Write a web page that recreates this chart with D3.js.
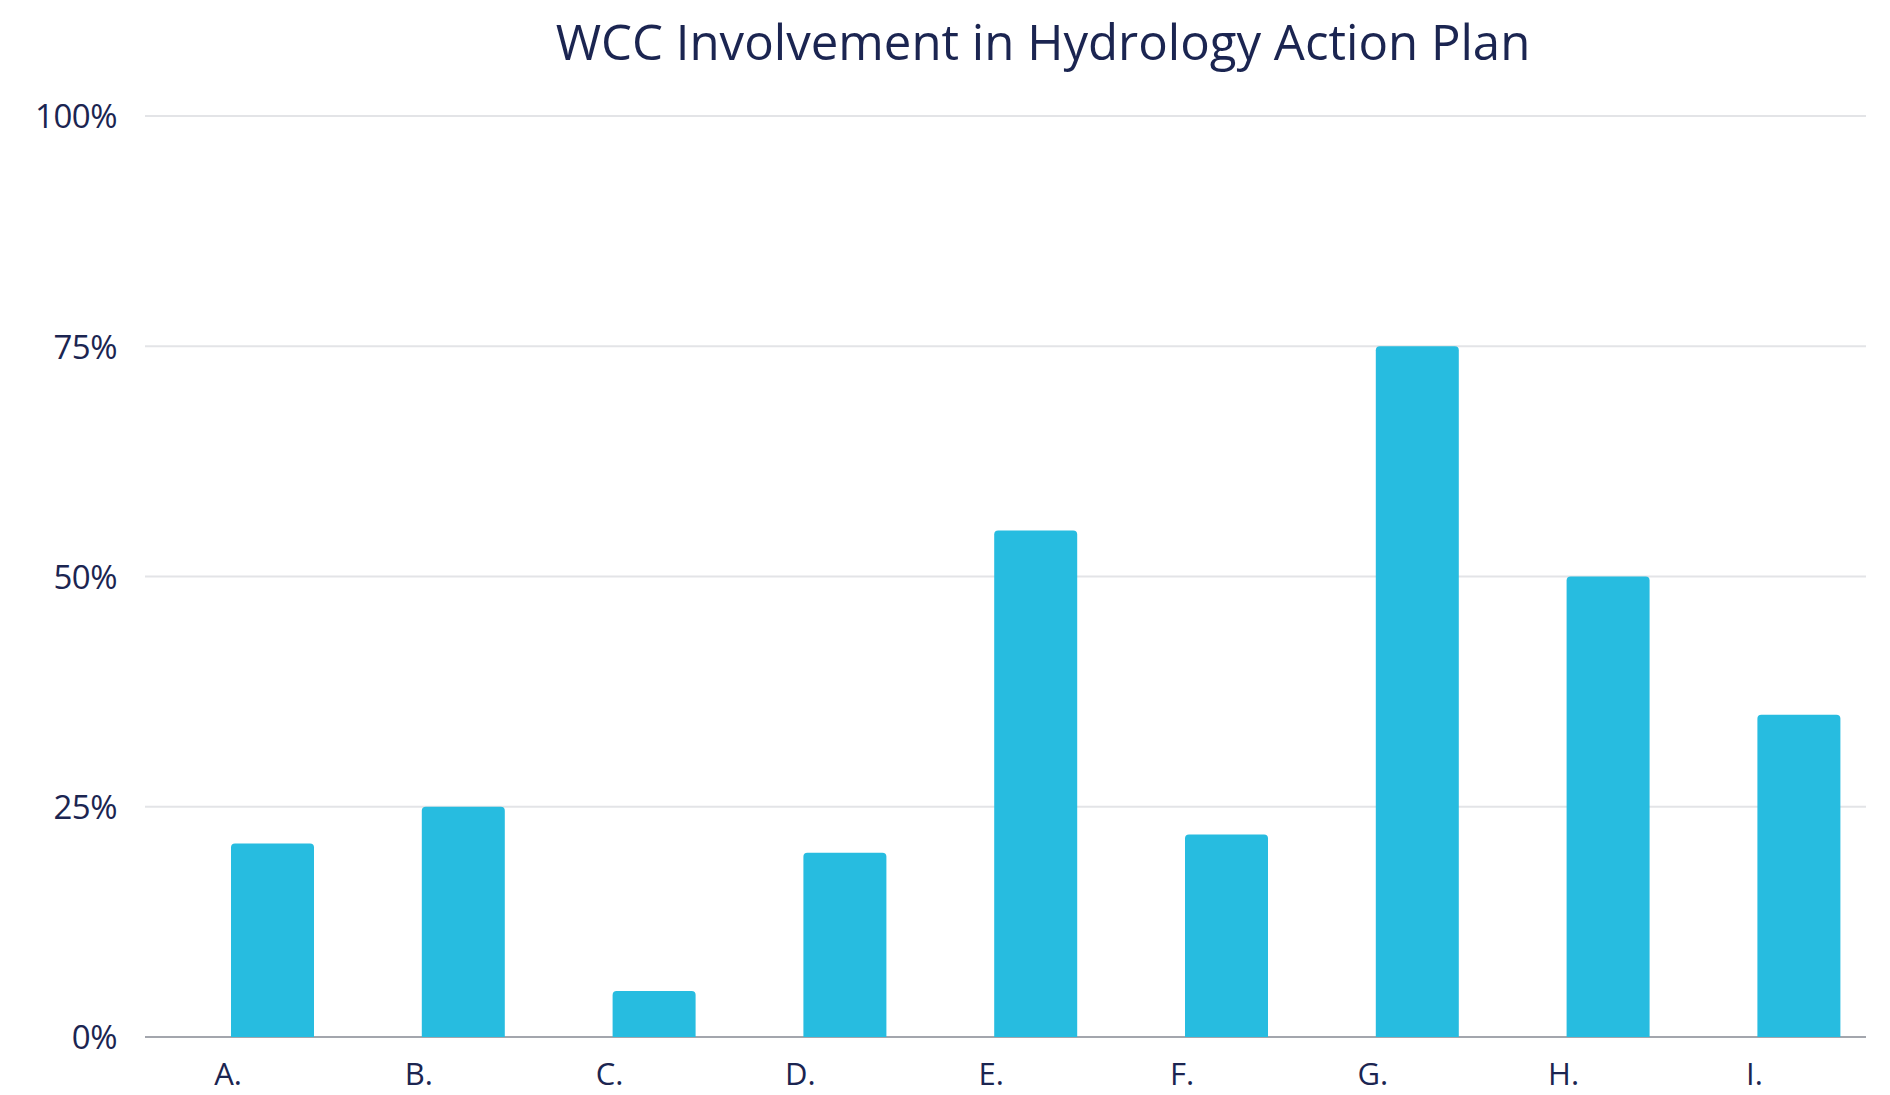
<!DOCTYPE html>
<html>
<head>
<meta charset="utf-8">
<script src="https://cdn.jsdelivr.net/npm/d3@7"></script>
<style>
  body { margin: 0; background: #fff; }
  text { font-family: "Open Sans", "Noto Sans", sans-serif; fill: #1b2551; }
</style>
</head>
<body>
<div id="chart"></div>
<script>
const categories = ["A.", "B.", "C.", "D.", "E.", "F.", "G.", "H.", "I."];
const values = [21, 25, 5, 20, 55, 22, 75, 50, 35];
const yTicks = [0, 25, 50, 75, 100];
const title = "WCC Involvement in Hydrology Action Plan";

const width = 1890;
const height = 1095;
const margin = { top: 116, right: 24, bottom: 58, left: 145 };

const svg = d3.select("#chart").append("svg")
              .attr("width", width)
              .attr("height", height);

// slots are a touch narrower than the grid width
const xScale = d3.scaleBand()
                 .domain(categories)
                 .range([margin.left, margin.left + 9 * 190.8])
                 .padding(0);

const yScale = d3.scaleLinear()
                 .domain([0, 100])
                 .range([height - margin.bottom, margin.top]);

// gridlines
svg.append("g")
   .selectAll("line")
   .data(yTicks)
   .enter()
   .append("line")
   .attr("x1", margin.left)
   .attr("x2", width - margin.right)
   .attr("y1", d => yScale(d))
   .attr("y2", d => yScale(d))
   .attr("stroke", d => d === 0 ? "#a3a6ad" : "#e3e4e7")
   .attr("stroke-width", 2)

// y axis labels
const gy = svg.append("g")
              .attr("transform", `translate(${margin.left - 28}, 0)`)
              .call(d3.axisLeft(yScale).tickValues(yTicks).tickSize(0).tickFormat(d => d + "%"))
gy.select(".domain").remove()
gy.selectAll("text")
  .attr("x", 0)
  .attr("dy", "0.36em")
  .style("font-size", "33px")
  .style("letter-spacing", "-0.5px")
  .style("fill", "#1b2551")

// bars with rounded top
const barOffset = 86;
const barWidth = 83;
const r = 4;

svg.append("g")
   .selectAll("path")
   .data(values)
   .enter()
   .append("path")
   .attr("fill", "#27bce0")
   .attr("d", (d, i) => {
       const x0 = xScale(categories[i]) + barOffset;
       const x1 = x0 + barWidth;
       const y0 = yScale(0);
       const y1 = yScale(d);
       return `M${x0},${y0}V${y1 + r}Q${x0},${y1} ${x0 + r},${y1}H${x1 - r}Q${x1},${y1} ${x1},${y1 + r}V${y0}Z`;
   })

// x axis labels
const gx = svg.append("g")
              .attr("transform", `translate(0, ${yScale(0) + 48})`)
              .call(d3.axisBottom(xScale).tickSize(0))
gx.select(".domain").remove()
gx.selectAll(".tick")
  .attr("transform", d => `translate(${xScale(d) + barOffset - 3}, 0)`)
gx.selectAll("text")
  .attr("y", 0)
  .attr("dy", 0)
  .style("font-size", "31px")
  .style("fill", "#1b2551")

// title
const t = svg.append("text")
             .attr("x", 1043)
             .attr("y", 60)
             .attr("text-anchor", "middle")
             .style("font-size", "48px")
             .text(title)
const len = t.node().getComputedTextLength();
t.style("font-size", (48 * 975 / len) + "px")
</script>
</body>
</html>
